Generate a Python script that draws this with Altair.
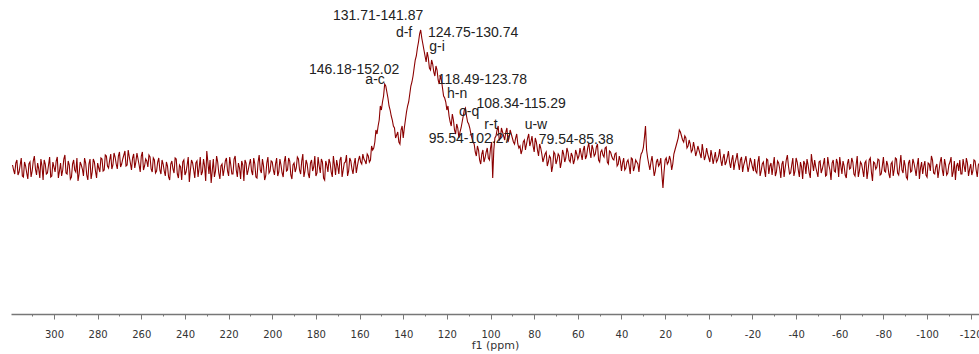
import altair as alt
import pandas as pd

# ---- spectrum values (intensity relative to baseline) ----
# "whole" arrays: values at integer ppm; "half" arrays: values 0.5 ppm lower
PPM_START = 319
PPM_STEP = 0.5

w_319_281 = [3,-6,8,-4,10,-9,2,-11,6,-3,12,-7,-1,9,-12,4,-5,11,-8,1,7,-10,5,-2,13,-6,3,-9,8,-4,-13,6,-1,10,-7,4,-11,9,-3]
h_319_281 = [-2,5,-7,3,-8,6,-5,4,-9,7,-1,5,-10,2,8,-6,3,-9,6,-4,11,-3,-8,9,-5,7,-11,4,-2,10,-6,3,-8,5,-12,9,-4,6,-10]

w_280_251 = [5,-4,9,-2,12,0,14,3,11,-1,16,4,13,2,18,5,10,0,15,3,12,-2,9,1,11,-4,8,-3,10,-6]
h_280_251 = [0,10,-3,13,2,8,-1,15,4,12,1,9,17,3,11,-2,14,6,9,-4,16,2,7,13,-1,10,-5,6,-2,8]

w_250_201 = [4,-8,2,-12,7,-5,9,-10,1,6,-7,3,-14,8,-2,5,-9,11,-4,2,17,-6,-15,9,-3,6,-11,4,-1,10,-8,3,-6,12,-9,0,7,-13,5,-2,9,-7,4,-10,13,-5,2,-8,11,-3]
h_250_201 = [-3,6,-9,4,-1,10,-6,3,-12,8,-4,11,-2,5,-10,7,0,-7,9,-13,6,8,-3,-9,12,-5,2,-8,7,-3,11,-6,9,-2,5,-11,3,8,-7,4,-3,10,-9,6,-2,9,-12,5,-5,7]

w_200_158 = [6,-7,10,-4,3,-9,12,-2,7,-11,5,0,9,-6,14,-3,4,-10,8,1,-8,11,-5,6,-12,3,9,-4,12,-7,2,8,-9,5,13,-3,7,-6,10,2,12,4,9]
h_200_158 = [-2,4,-8,9,-5,6,-3,10,-7,3,-4,11,-2,7,-9,8,-6,5,-3,12,-5,2,9,-10,7,-4,5,-9,3,8,-6,11,-2,6,-8,10,-1,4,-5,8,6,14,7]

w_157_60 = [4,12,8,18,26,34,48,58,72,82,70,58,48,40,33,26,38,30,48,62,74,86,100,112,126,138,124,112,116,100,
            108,96,102,88,92,80,70,58,52,42,48,34,40,36,46,58,52,44,34,26,16,22,8,14,6,16,10,20,-10,30,
            38,28,40,32,36,26,38,30,24,34,20,14,26,18,30,22,32,16,26,12,20,6,14,2,12,-4,16,4,14,0,
            18,6,20,8,15,4,18,9]
h_157_60 = [14,6,22,20,38,42,62,66,84,76,62,52,42,30,36,24,42,40,56,66,82,92,108,120,134,130,118,106,110,98,
            104,92,98,84,88,72,66,62,46,54,38,44,30,40,52,60,46,40,30,24,12,18,4,18,10,20,8,26,18,32,
            42,30,36,28,40,30,34,26,30,24,22,18,28,24,34,26,22,30,18,24,14,10,16,6,10,2,14,8,12,6,
            14,10,16,6,12,8,14,12]

w_59_20 = [20,8,22,12,25,10,19,14,24,6,18,11,21,4,16,9,14,2,12,-3,10,0,8,-6,9,1,6,-4,14,20,42,10,-2,12,-8,6,2,10,-20,8]
h_59_20 = [14,18,9,20,16,23,12,21,8,16,13,20,6,17,12,8,15,4,7,5,-2,6,2,10,-3,8,4,8,16,30,18,4,6,2,-3,9,4,-6,-4,10]

w_19_m20 = [4,12,-2,14,22,30,36,28,32,20,28,16,26,12,22,14,24,8,20,10,18,4,16,8,19,2,14,6,17,0,13,5,15,-2,11,3,12,-4,10,1]
h_19_m20 = [6,8,4,18,26,38,32,26,30,22,24,18,20,16,18,10,16,12,14,6,12,10,6,12,8,10,3,11,6,8,-2,9,5,8,-4,7,4,2,6,-3]

w_m21_m124 = [9,-5,12,-3,6,-9,8,2,-7,11,-4,5,-10,7,0,13,-6,3,-8,10,-2,6,-11,4,9,-5,14,-3,1,-9,
              7,-1,10,-7,3,-12,8,-4,5,11,-6,2,-10,9,0,6,-8,12,-3,4,-9,7,-2,10,-13,5,1,8,-6,11,
              -4,3,-10,6,-1,9,-7,13,-5,2,-11,8,-3,5,-8,10,0,-6,7,-9,4,12,-5,1,-10,6,-2,9,-7,3,
              11,-4,-12,5,8,-6,2,10,-8,4,-3,7,-9,5]
h_m21_m124 = [-3,6,-8,4,-2,9,-6,5,3,-8,7,-1,4,-9,8,2,-5,10,-3,6,-9,1,7,-6,3,-10,5,8,-4,6,
              -5,4,-8,11,-2,5,-3,9,-9,2,7,-7,4,-1,10,-6,3,-9,6,-2,
              5,-11,8,-4,6,-1,9,-7,2,-3,7,-6,4,-8,10,-5,3,-2,8,-9,
              5,-4,9,-1,3,-11,6,2,-7,5,-3,8,-6,4,-2,11,-8,3,-5,6,
              -9,7,2,-3,-6,9,-4,5,-1,-7,8,-2,3,-5]

segments = [(w_319_281, h_319_281), (w_280_251, h_280_251), (w_250_201, h_250_201),
            (w_200_158, h_200_158), (w_157_60, h_157_60), (w_59_20, h_59_20),
            (w_19_m20, h_19_m20), (w_m21_m124, h_m21_m124)]
intensity = []
for w, h in segments:
    assert len(w) == len(h), (len(w), len(h))
    for a, b in zip(w, h):
        intensity += [a, b]
ppm = [PPM_START - PPM_STEP * i for i in range(len(intensity))]
spec = pd.DataFrame({"ppm": ppm, "intensity": intensity})

# ---- annotations ----
ann_text = ["131.71-141.87", "d-f", "124.75-130.74", "g-i", "146.18-152.02", "a-c",
            "118.49-123.78", "h-n", "108.34-115.29", "o-q", "r-t", "u-w",
            "95.54-102.27", "79.54-85.38"]
ann_ppm = [151.5, 139.6, 108.0, 124.5, 162.5, 152.9, 103.7, 115.3, 86.0, 109.8, 99.8, 79.2, 109.4, 60.8]
ann_int = [152, 135, 135, 121, 98, 88, 88, 74, 64, 56, 43, 43, 29, 28]
ann = pd.DataFrame({"label": ann_text, "ppm": ann_ppm, "intensity": ann_int})

major_ticks = list(range(300, -121, -20))
minor_ticks = list(range(310, -121, -20))

xscale = alt.Scale(domain=[319.7, -123.8], nice=False, zero=False)
yscale = alt.Scale(domain=[-146, 168], nice=False, zero=False)

line = alt.Chart(spec).mark_line(color="#8b0000", strokeWidth=1.1, clip=True).encode(
    x=alt.X("ppm:Q", scale=xscale,
            axis=alt.Axis(values=major_ticks, title="f1 (ppm)", grid=False, orient="bottom",
                          labelExpr="'' + datum.value",
                          tickSize=5, tickColor="#777", domainColor="#777", domainWidth=1.5,
                          labelFont="DejaVu Sans", labelFontSize=10, labelColor="#333",
                          labelPadding=10, labelFlush=False, labelOverlap=False,
                          titleFont="DejaVu Sans", titleFontSize=11, titleFontWeight="normal",
                          titleColor="#333", titlePadding=0)),
    y=alt.Y("intensity:Q", scale=yscale, axis=None),
)

minor = alt.Chart(ann).mark_point(opacity=0).encode(
    x=alt.X("ppm:Q", scale=xscale,
            axis=alt.Axis(values=minor_ticks, title=None, grid=False, orient="bottom",
                          labels=False, domain=False, tickSize=2, tickColor="#777")),
    y=alt.Y("intensity:Q", scale=yscale, axis=None),
)

text = alt.Chart(ann).mark_text(font="Liberation Sans", fontSize=14, color="#222",
                                align="center", baseline="middle").encode(
    x=alt.X("ppm:Q", scale=xscale, axis=None),
    y=alt.Y("intensity:Q", scale=yscale, axis=None),
    text="label:N",
)

chart = alt.layer(line, minor, text).resolve_axis(x="independent").properties(
    width=968, height=314,
    padding={"left": 11, "top": 0, "right": 0, "bottom": 40},
    autosize=alt.AutoSizeParams(type="none"),
).configure_view(stroke=None)

chart.save("out.html", embed_options={"renderer": "svg", "actions": False})
